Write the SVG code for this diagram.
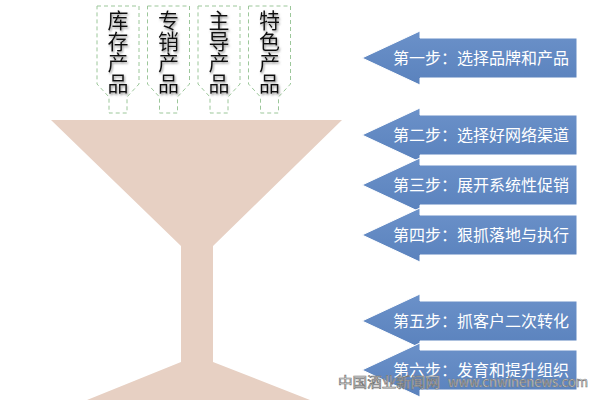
<svg xmlns="http://www.w3.org/2000/svg" xmlns:xlink="http://www.w3.org/1999/xlink" width="600" height="400" viewBox="0 0 600 400">
<style>
.prod{font-family:"Noto Sans CJK SC","Liberation Sans",sans-serif;font-size:21px;fill:#111;writing-mode:vertical-rl;text-orientation:upright}
.box{fill:none;stroke:#9cc79a;stroke-width:1;stroke-dasharray:4 3}
.step{font-family:"Noto Sans CJK SC","Liberation Sans",sans-serif;font-size:16px;fill:#ffffff}
.arrow{fill:url(#ag);stroke:#ffffff;stroke-width:1}
.wm{font-family:"Noto Sans CJK SC","Liberation Mono",monospace;font-size:14px;fill:#ffffff;stroke:#777;stroke-width:0.7}
</style>
<defs>
<linearGradient id="ag" x1="0" y1="0" x2="0" y2="1">
<stop offset="0" stop-color="#6b91c9"/>
<stop offset="1" stop-color="#5a82bd"/>
</linearGradient>
<filter id="sh" x="-30%" y="-10%" width="160%" height="120%">
<feDropShadow dx="1" dy="1.5" stdDeviation="1" flood-color="#777" flood-opacity="0.8"/>
</filter>
<path id="arr" d="M362,0 L420,-27 V-20 H577 V20 H420 V27 Z"/>
<path id="pbox" d="M0,0 H42 V78 L30,91 V107 H12 V91 L0,78 Z"/>
</defs>
<rect width="600" height="400" fill="#ffffff"/>
<g id="glass">
<path d="M51,120 H342 L213,246 V362 L310,400 H87 L181,362 V246 Z" fill="#e7d0c3"/>
</g>
<g id="products">
<g id="p1">
<use xlink:href="#pbox" x="97" y="6" class="box"/>
<text class="prod" filter="url(#sh)" x="118" y="10">库存产品</text>
</g>
<g id="p2">
<use xlink:href="#pbox" x="147.5" y="6" class="box"/>
<text class="prod" filter="url(#sh)" x="168.5" y="10">专销产品</text>
</g>
<g id="p3">
<use xlink:href="#pbox" x="198" y="6" class="box"/>
<text class="prod" filter="url(#sh)" x="219" y="10">主导产品</text>
</g>
<g id="p4">
<use xlink:href="#pbox" x="248.5" y="6" class="box"/>
<text class="prod" filter="url(#sh)" x="269.5" y="10">特色产品</text>
</g>
</g>
<g id="steps">
<g id="s1"><use xlink:href="#arr" y="58" class="arrow"/><text class="step" x="393" y="64">第一步：选择品牌和产品</text></g>
<g id="s2"><use xlink:href="#arr" y="135" class="arrow"/><text class="step" x="393" y="141">第二步：选择好网络渠道</text></g>
<g id="s3"><use xlink:href="#arr" y="185" class="arrow"/><text class="step" x="393" y="191">第三步：展开系统性促销</text></g>
<g id="s4"><use xlink:href="#arr" y="235" class="arrow"/><text class="step" x="393" y="241">第四步：狠抓落地与执行</text></g>
<g id="s5"><use xlink:href="#arr" y="321" class="arrow"/><text class="step" x="393" y="327">第五步：抓客户二次转化</text></g>
<g id="s6"><use xlink:href="#arr" y="370" class="arrow"/><text class="step" x="393" y="376">第六步：发育和提升组织</text></g>
</g>
<g id="connectors"/>
<g id="watermark">
<text class="wm" x="338" y="387" textLength="102" lengthAdjust="spacingAndGlyphs">中国酒业新闻网</text>
<text class="wm" x="448" y="387" textLength="140" lengthAdjust="spacingAndGlyphs">www.cnwinenews.com</text>
</g>
</svg>
